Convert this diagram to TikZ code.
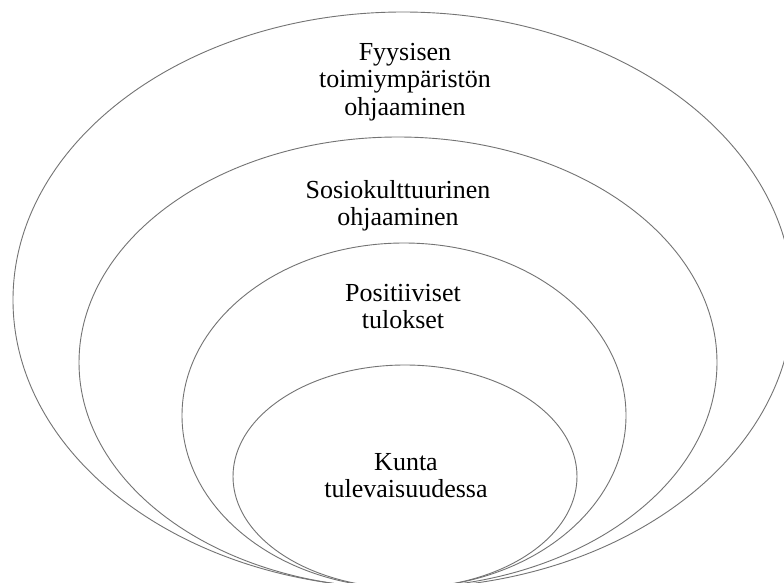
\documentclass[tikz,border=0pt]{standalone}
\usepackage{fontspec}
\setmainfont{Liberation Serif}
\usetikzlibrary{shapes.geometric}
\definecolor{ringgray}{RGB}{115,115,115}
\tikzset{
  ring/.style={draw=ringgray, line width=0.9pt, ellipse, inner sep=0pt, outer sep=0pt},
  lbl/.style={align=center, inner sep=0pt, font=\fontsize{26}{27.5}\selectfont}
}
\begin{document}
\begin{tikzpicture}[x=1pt,y=-1pt]
\useasboundingbox (0,0) rectangle (784,583);
\clip (0,0) rectangle (784,583);
\fill[white] (0,0) rectangle (784,583);
\node[ring, minimum width=780pt, minimum height=576pt] (outer) at (403,300) {};
\node[ring, minimum width=638pt, minimum height=451pt] (second) at (398,362.5) {};
\node[ring, minimum width=444pt, minimum height=345pt] (third) at (404,415.5) {};
\node[ring, minimum width=344pt, minimum height=223pt] (inner) at (405,476.5) {};
\node[lbl] (t1) at (405,82) {Fyysisen\\toimiympäristön\\ohjaaminen};
\node[lbl] (t2) at (398,205.5) {Sosiokulttuurinen\\ohjaaminen};
\node[lbl] (t3) at (403,306.6) {Positiiviset\\tulokset};
\node[lbl] (t4) at (406,475.6) {Kunta\\tulevaisuudessa};
\end{tikzpicture}
\end{document}
